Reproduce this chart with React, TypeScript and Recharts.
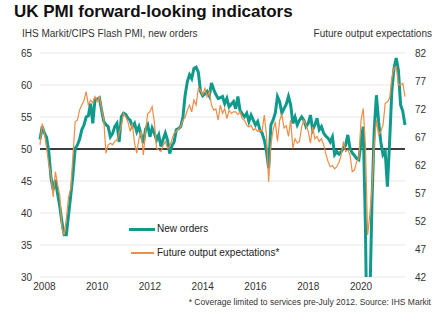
import React from 'react';
import { LineChart, Line, XAxis, YAxis, CartesianGrid, ReferenceLine } from 'recharts';

const FONT = '"Liberation Sans", Arial, Helvetica, sans-serif';
const TEAL = '#0f9a8c';
const ORANGE = '#ef8c46';

// Monthly series, first observation Nov 2007 (month index -2, Jan 2008 = 0), last Sep 2021
const START_INDEX = -2;

const newOrders: number[] = [
  51.5, 53.5,
  52.5, 51.8, 49.6, 45.5, 43.6, 45.2, 43.0, 41.0, 38.5, 36.6, 36.6, 39.7,
  42.8, 46.0, 50.1, 50.6, 51.5, 53.0, 53.75, 55.0, 55.2, 57.1, 54.0, 57.7,
  57.8, 58.0, 56.1, 54.3, 53.8, 53.5, 51.9, 52.4, 53.5, 54.0, 51.1, 55.05,
  55.6, 55.4, 54.8, 54.5, 53.5, 54.0, 52.7, 53.5, 52.2, 50.9, 53.1, 53.75,
  51.9, 53.3, 52.5, 51.4, 52.2, 50.4, 51.5, 52.5, 51.4, 49.3, 50.5, 51.1,
  53.0, 53.2, 53.5, 55.0, 58.4, 60.5, 61.6, 61.0, 62.6, 62.8, 62.0, 59.0,
  58.3, 58.6, 59.0, 58.3, 60.3, 59.3, 58.5, 57.9, 58.0, 58.2, 57.1, 57.9,
  56.6, 57.0, 57.4, 56.3, 58.2, 56.0, 55.5, 55.05, 55.6, 54.3, 55.3, 54.5,
  53.75, 54.3, 53.0, 52.5, 51.4, 49.6, 47.0, 53.75, 54.5, 55.6, 58.2, 57.4,
  55.6, 56.3, 57.0, 58.2, 56.9, 54.0, 55.0, 53.75, 54.5, 55.0, 54.5, 53.5,
  54.0, 55.3, 53.0, 53.75, 54.8, 53.0, 53.5, 52.5, 52.0, 51.7, 51.1, 51.9,
  49.1, 49.6, 49.2, 49.6, 50.1, 50.6, 52.2, 50.1, 49.4, 49.0, 48.5, 48.3,
  51.1, 53.5, 38.0, 12.0, 26.0, 42.0, 53.0, 58.4, 54.3, 51.1, 49.1, 49.6,
  44.1, 51.1, 59.0, 62.6, 64.2, 62.3, 56.9, 55.9, 53.75,
];

const futureOutput: number[] = [
  65.6, 69.4,
  67.7, 65.0, 62.0, 60.2, 56.3, 60.8, 58.5, 56.6, 50.7, 49.5, 52.5, 56.3,
  57.8, 63.8, 69.7, 70.0, 71.8, 72.7, 73.5, 75.1, 72.7, 73.6, 73.1, 74.2,
  73.3, 74.2, 72.2, 70.0, 64.1, 65.6, 65.9, 65.6, 66.2, 66.5, 67.7, 69.1,
  71.2, 70.6, 69.7, 68.0, 69.4, 65.9, 64.1, 66.7, 68.0, 63.8, 68.2, 71.2,
  71.5, 72.4, 69.7, 65.0, 64.7, 64.4, 65.5, 66.2, 65.0, 65.3, 66.5, 67.7,
  68.0, 68.5, 68.8, 70.0, 70.5, 71.8, 72.7, 71.5, 73.6, 72.7, 75.7, 75.4,
  74.5, 75.7, 74.2, 75.1, 72.7, 71.8, 72.0, 70.0, 72.7, 71.2, 72.1, 70.3,
  71.8, 71.2, 71.5, 71.5, 71.0, 71.5, 70.3, 70.0, 69.1, 68.8, 69.1, 68.2,
  68.5, 68.0, 68.2, 68.0, 70.9, 67.4, 59.0, 65.6, 68.2, 69.7, 66.2, 70.0,
  71.0, 68.6, 69.0, 67.1, 70.0, 65.0, 66.7, 65.9, 66.2, 68.8, 70.0, 69.1,
  68.0, 65.9, 68.8, 66.7, 67.1, 66.2, 66.7, 65.6, 64.0, 62.6, 61.7, 61.9,
  61.3, 61.7, 62.5, 63.8, 66.2, 64.4, 64.7, 63.8, 60.8, 61.1, 62.6, 63.2,
  70.0, 72.1, 65.6, 49.5, 53.1, 57.8, 65.6, 70.0, 67.4, 68.0, 69.1, 73.0,
  73.3, 73.9, 77.5, 79.3, 79.6, 76.3, 76.3, 76.6, 74.2,
];

const yearTicks: number[] = [2008, 2010, 2012, 2014, 2016, 2018, 2020];
const leftTicks: number[] = [30, 35, 40, 45, 50, 55, 60, 65];
const rightTicks: number[] = [42, 47, 52, 57, 62, 67, 72, 77, 82];

const data = newOrders.map((v, i) => ({
  m: START_INDEX + i,
  newOrders: v,
  futureOutput: futureOutput[i],
}));

const xTicks = yearTicks.map((y) => (y - 2008) * 12);
const lastIndex = START_INDEX + newOrders.length - 1;

export default function App() {
  return (
    <div style={{ position: 'absolute', left: 0, top: 0, width: 445, height: 326, background: '#fff', fontFamily: FONT }}>
      <div style={{ position: 'absolute', left: 0, top: 0 }}>
        <LineChart width={445} height={326} data={data} margin={{ top: 53, right: 0, bottom: 29, left: 0 }}>
          <CartesianGrid yAxisId="left" vertical={false} stroke="#e6e6e6" strokeWidth={1} />
          <XAxis
            dataKey="m"
            type="number"
            domain={[START_INDEX, lastIndex]}
            ticks={xTicks}
            tickFormatter={(v: number) => String(2008 + v / 12)}
            axisLine={false}
            tickLine={false}
            height={20}
            tickSize={4}
            tickMargin={2}
            tick={{ fontSize: 10, fill: '#333', fontFamily: FONT }}
            interval={0}
          />
          <YAxis
            yAxisId="left"
            domain={[30, 65]}
            ticks={leftTicks}
            allowDataOverflow
            axisLine={false}
            tickLine={false}
            width={40}
            tick={{ fontSize: 10, fill: '#333', fontFamily: FONT }}
            interval={0}
          />
          <YAxis
            yAxisId="right"
            orientation="right"
            domain={[42, 82]}
            ticks={rightTicks}
            allowDataOverflow
            axisLine={false}
            tickLine={false}
            width={40}
            tickMargin={4}
            tick={{ fontSize: 10, fill: '#333', fontFamily: FONT }}
            interval={0}
          />
          <ReferenceLine yAxisId="left" y={50} stroke="#000" strokeWidth={1.3} />
          <Line
            yAxisId="left"
            type="linear"
            dataKey="newOrders"
            stroke={TEAL}
            strokeWidth={3}
            dot={false}
            isAnimationActive={false}
          />
          <Line
            yAxisId="right"
            type="linear"
            dataKey="futureOutput"
            stroke={ORANGE}
            strokeWidth={1.2}
            dot={false}
            isAnimationActive={false}
          />
        </LineChart>
      </div>
      <div style={{ position: 'absolute', left: 129, top: 221, fontSize: 10, color: '#222', lineHeight: '16px' }}>
        <div style={{ display: 'flex', alignItems: 'center', height: 16 }}>
          <div style={{ width: 26, height: 3, background: TEAL, marginRight: 2 }} />
          <span>New orders</span>
        </div>
        <div style={{ display: 'flex', alignItems: 'center', height: 16, marginTop: 8 }}>
          <div style={{ width: 23, height: 1.2, background: ORANGE, marginLeft: 2, marginRight: 3 }} />
          <span>Future output expectations*</span>
        </div>
      </div>
      <div style={{ position: 'absolute', left: 14, top: 2, fontSize: 17, fontWeight: 'bold', color: '#111', whiteSpace: 'nowrap' }}>
        UK PMI forward-looking indicators
      </div>
      <div style={{ position: 'absolute', left: 22, top: 28, fontSize: 10, color: '#333', whiteSpace: 'nowrap' }}>
        IHS Markit/CIPS Flash PMI, new orders
      </div>
      <div style={{ position: 'absolute', right: 13, top: 28, fontSize: 10, color: '#333', whiteSpace: 'nowrap' }}>
        Future output expectations
      </div>
      <div style={{ position: 'absolute', right: 14, top: 297, fontSize: 8.5, color: '#333', whiteSpace: 'nowrap' }}>
        * Coverage limited to services pre-July 2012. Source: IHS Markit
      </div>
    </div>
  );
}
